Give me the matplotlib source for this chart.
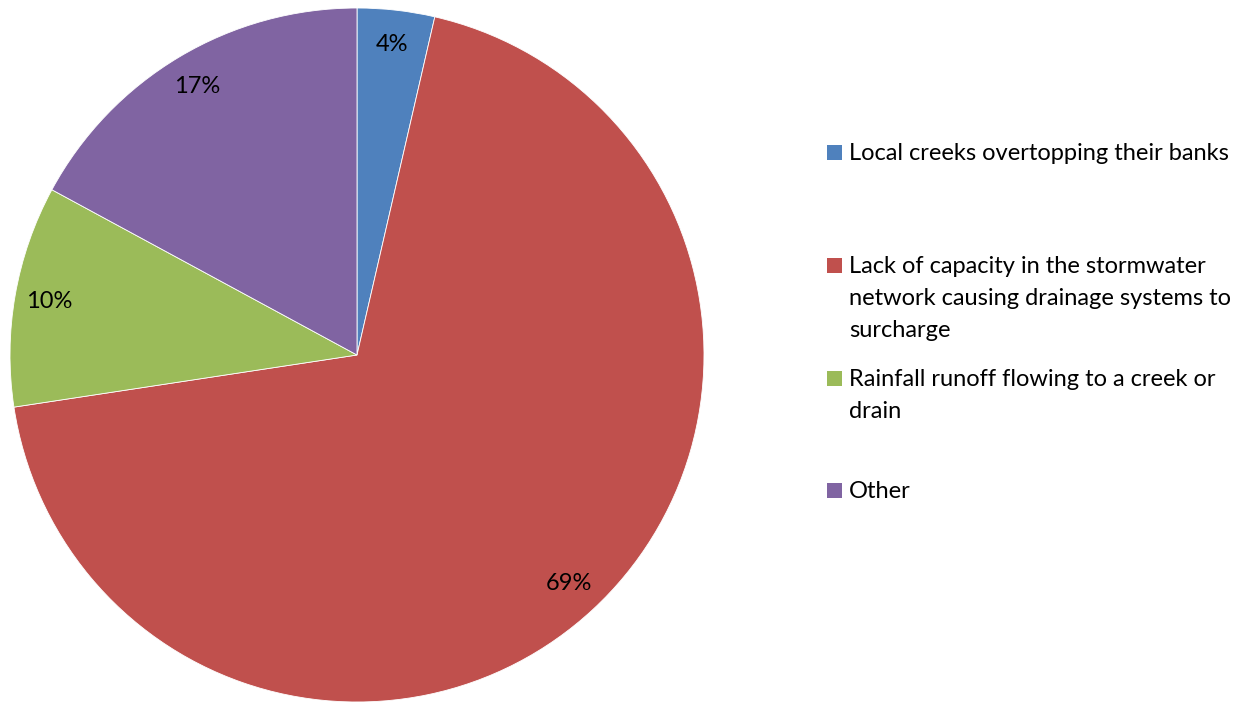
import matplotlib.pyplot as plt
from matplotlib.patches import Rectangle

# ------------------ data
categories = [
    "Local creeks overtopping their banks",
    "Lack of capacity in the stormwater\nnetwork causing drainage systems to\nsurcharge",
    "Rainfall runoff flowing to a creek or\ndrain",
    "Other",
]
shares = [3.6, 69.0, 10.3, 17.1]
colors = ["#4F81BD", "#C0504D", "#9BBB59", "#8064A2"]

plt.rcParams["font.family"] = ["Lato", "DejaVu Sans"]

W, H = 1260, 704
FS = 17
fig = plt.figure(figsize=(W / 100, H / 100), dpi=100)


def fy(py):
    return 1 - py / H


# ------------------ pie
ax = fig.add_axes([10 / W, 2 / H, 694 / W, 694 / H])
wedges, texts, autotexts = ax.pie(
    shares, colors=colors, startangle=90, counterclock=False,
    autopct="%.0f%%", pctdistance=0.9,
    wedgeprops=dict(edgecolor="white", linewidth=0.6),
    textprops=dict(fontsize=FS, color="black"),
)
ax.set_xlim(-1, 1)
ax.set_ylim(-1, 1)
ax.set_aspect("equal")
for w in wedges:
    w.set_clip_on(False)

# ------------------ legend (drawn by hand to mimic the spreadsheet layout)
baselines = [160, 273, 386, 498]
line_step = 32
for label, color, base in zip(categories, colors, baselines):
    fig.patches.append(Rectangle((827 / W, fy(base)), 15 / W, 15 / H,
                                 transform=fig.transFigure, facecolor=color,
                                 edgecolor="none"))
    for i, line in enumerate(label.split("\n")):
        fig.text(849 / W, fy(base + i * line_step), line, fontsize=FS,
                 va="baseline", ha="left")

fig.savefig("out.png", dpi=100)
